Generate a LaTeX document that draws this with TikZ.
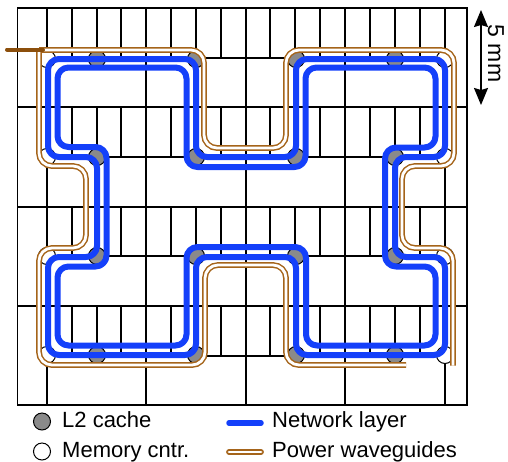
\documentclass[tikz,border=0pt]{standalone}
\usepackage{fontspec}
\setmainfont{Liberation Sans}
\usetikzlibrary{arrows.meta}
\definecolor{netblue}{HTML}{1440FA}
\definecolor{wgbrown}{HTML}{A5641A}
\definecolor{stubbrown}{HTML}{8C4F0C}
\definecolor{cachegrey}{HTML}{8A8A8A}
\tikzset{
  thickgrid/.style={line width=2pt,black},
  thingrid/.style={line width=1.2pt,black},
  frameline/.style={line width=1.2pt,black},
  ring/.style={line width=6pt,netblue,rounded corners=11pt,line join=round},
  guide/.style={line width=1.5pt,wgbrown,double=white,double distance=2.8pt,rounded corners=13pt},
  l2/.style={circle,draw=black,line width=1pt,fill=cachegrey,minimum size=17pt,inner sep=0pt},
  memc/.style={circle,draw=black,line width=1pt,fill=white,minimum size=17pt,inner sep=0pt},
  legendtext/.style={anchor=base west,inner sep=0pt,font=\fontsize{22}{24}\selectfont},
}
\begin{document}
\begin{tikzpicture}[x=1pt,y=-1pt]
\useasboundingbox (0,0) rectangle (508,461);
% thin grid
\foreach \r/\s in {8/58,107/157,207/256,306/356}{
  \foreach \x in {72,97,121,171,196,221,270,295,320,370,395,420}{
    \draw[thingrid] (\x,\r) -- (\x,\s);
  }
  \draw[thingrid] (47,\s) -- (445,\s);
}
% thick grid
\foreach \x in {47,146,246,345,445}{ \draw[thickgrid] (\x,8) -- (\x,405); }
\foreach \y in {107,207,306}{ \draw[thickgrid] (17.5,\y) -- (467,\y); }
\draw[frameline] (17.5,8) rectangle (467,405);
% cores
\foreach \y [count=\j] in {59,157,256,355}{
  \foreach \x [count=\i] in {97,196,296,395}{
    \node[l2] (c\j\i) at (\x,\y) {};
  }
  \node[memc] (ml\j) at (47,\y) {};
  \node[memc] (mr\j) at (445,\y) {};
}
% network rings
\draw[ring] (48,100) -- (48,59) -- (196,59) -- (196,157) -- (296,157) -- (296,59) -- (445,59) -- (445,157) -- (395,157) -- (395,257) -- (445,257) -- (445,355) -- (296,355) -- (296,257) -- (196,257) -- (196,355) -- (48,355) -- (48,257) -- (97,257) -- (97,157) -- (48,157) -- cycle;
\draw[ring] (57.5,100) -- (57.5,67.5) -- (186.5,67.5) -- (186.5,167) -- (305.5,167) -- (305.5,67.5) -- (435.5,67.5) -- (435.5,147.5) -- (385,147.5) -- (385,266.5) -- (435.5,266.5) -- (435.5,345.5) -- (306,345.5) -- (306,247) -- (186.5,247) -- (186.5,345.5) -- (57.5,345.5) -- (57.5,266.5) -- (106.5,266.5) -- (106.5,147) -- (57.5,147) -- cycle;
% power waveguides
\coordinate (laser) at (39,50);
\draw[guide] (laser) -- (204,50) -- (204,148) -- (286,148) -- (286,50) -- (454,50) -- (454,166) -- (402,166) -- (402,248) -- (453,248) -- (453,365.5);
\draw[guide] (laser) -- (39,166) -- (86,166) -- (86,248) -- (39,248) -- (39,365) -- (205,365) -- (205,265) -- (286,265) -- (286,365) -- (406,365);
\coordinate (stubstart) at (7,49.5);
\coordinate (stubend) at (43,49.5);
\draw[line width=4pt,stubbrown,line cap=round] (stubstart) -- (stubend);
% scale bar
\coordinate (bartop) at (481,10);
\coordinate (barbot) at (481,105);
\draw[line width=1.6pt,{Stealth[length=17pt,width=14pt,inset=2pt]}-{Stealth[length=17pt,width=14pt,inset=2pt]}] (bartop) -- (barbot);
\node[rotate=-90,inner sep=0pt,font=\fontsize{23}{25}\selectfont,anchor=base] (scale) at (488,53.5) {5 mm};
% legend
\node[l2] (legl2) at (42,421.5) {};
\node[memc] (legmem) at (42,451.5) {};
\node[legendtext] (t1) at (62,427.5) {L2 cache};
\node[legendtext] (t2) at (62,457.5) {Memory cntr.};
\coordinate (a1) at (229,423);
\coordinate (a2) at (261,423);
\coordinate (b1) at (229,452);
\coordinate (b2) at (261,452);
\draw[line width=5.5pt,netblue,line cap=round] (a1) -- (a2);
\draw[line width=1.5pt,wgbrown,double=white,double distance=2.8pt,line cap=round] (b1) -- (b2);
\node[legendtext] (t3) at (272,427.5) {Network layer};
\node[legendtext] (t4) at (272,457.5) {Power waveguides};
\end{tikzpicture}
\end{document}
